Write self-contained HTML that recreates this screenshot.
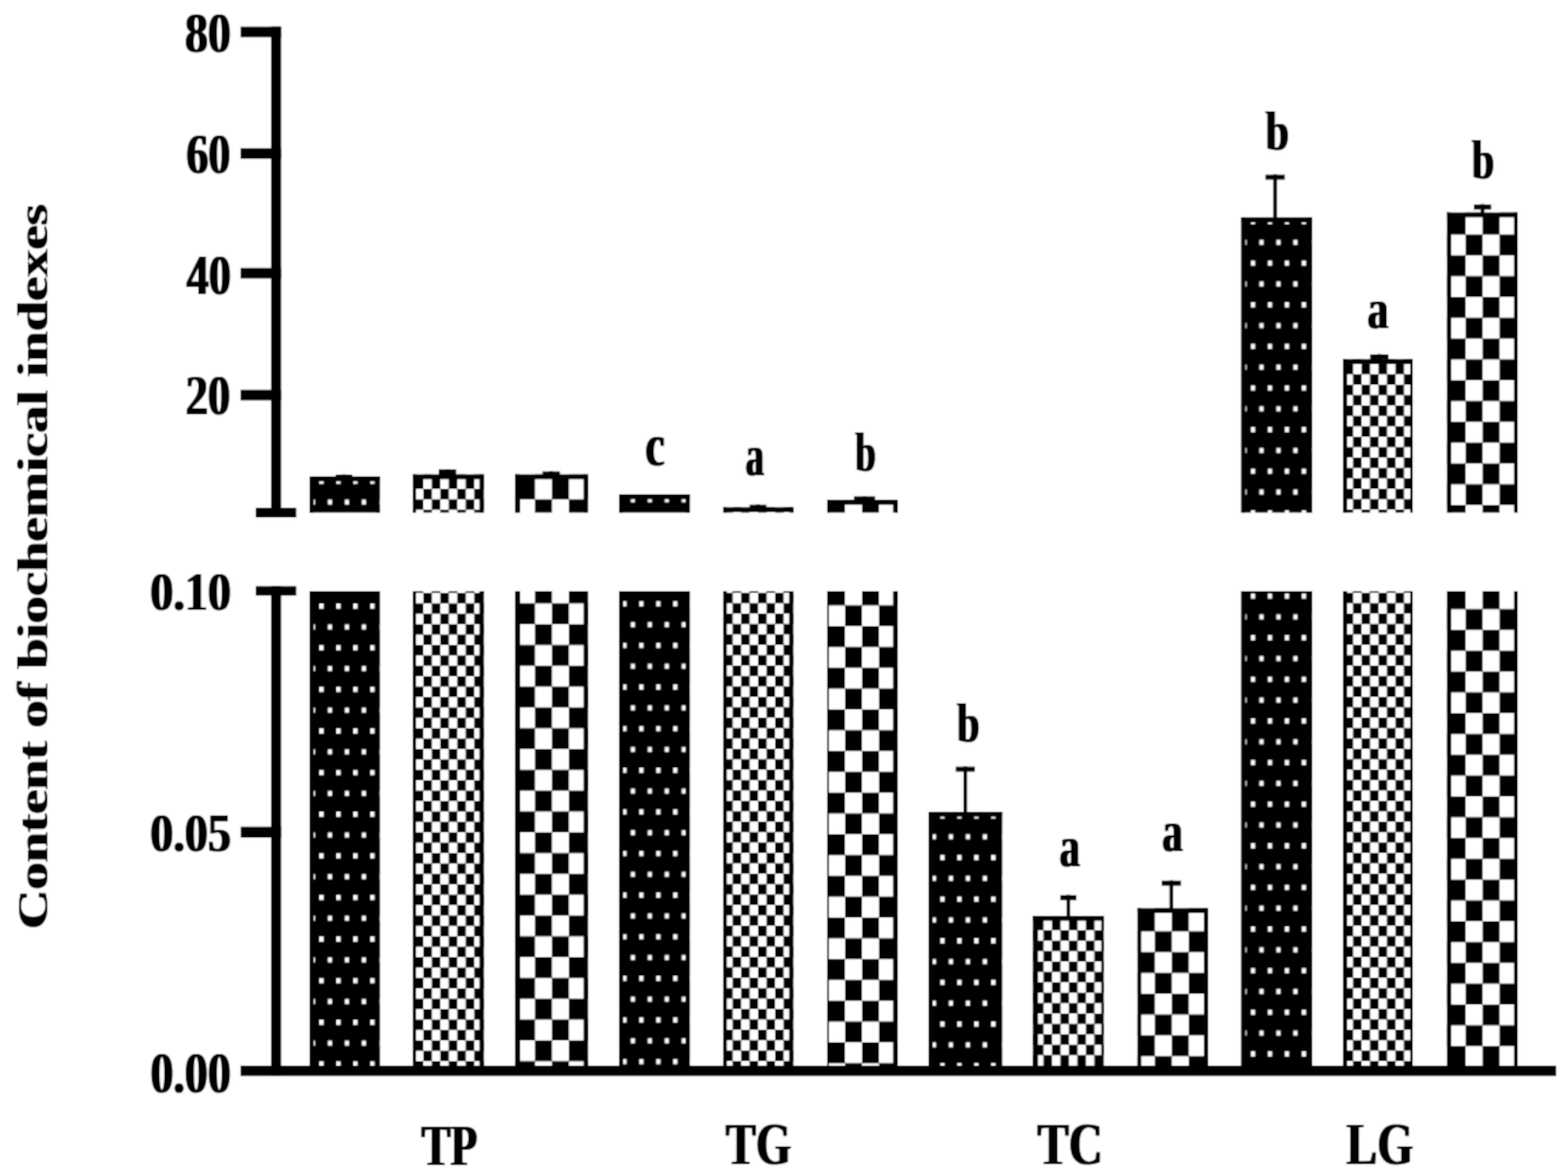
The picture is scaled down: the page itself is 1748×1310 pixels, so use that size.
<!DOCTYPE html>
<html><head><meta charset="utf-8"><title>Content of biochemical indexes</title>
<style>html,body{margin:0;padding:0;background:#fff;} svg{display:block;}</style>
</head><body>
<svg width="1748" height="1310" viewBox="0 0 1748 1310">
<defs><filter id="dilx" x="-2%" y="-2%" width="104%" height="104%"><feMorphology operator="dilate" radius="1 0"/></filter><filter id="dily" x="-10%" y="-2%" width="120%" height="104%"><feMorphology operator="dilate" radius="0 1"/></filter><filter id="soft" x="0" y="0" width="1748" height="1310" filterUnits="userSpaceOnUse"><feConvolveMatrix order="3" kernelMatrix="1 2 1 2 4 2 1 2 1" edgeMode="duplicate" preserveAlpha="true"/></filter><pattern id="dot0" patternUnits="userSpaceOnUse" x="356.00" y="672.90" width="18.920" height="46.400"><rect width="18.920" height="46.400" fill="#000"/><rect x="0" y="0" width="4.730" height="5.800" fill="#fff"/><rect x="9.460" y="23.200" width="4.730" height="5.800" fill="#fff"/></pattern><pattern id="sck1" patternUnits="userSpaceOnUse" x="471.90" y="661.10" width="18.920" height="23.200"><rect width="18.920" height="23.200" fill="#fff"/><rect x="0" y="0" width="9.460" height="11.600" fill="#000"/><rect x="9.460" y="11.600" width="9.460" height="11.600" fill="#000"/></pattern><pattern id="bck2" patternUnits="userSpaceOnUse" x="596.40" y="649.50" width="37.840" height="46.400"><rect width="37.840" height="46.400" fill="#fff"/><rect x="0" y="0" width="18.920" height="23.200" fill="#000"/><rect x="18.920" y="23.200" width="18.920" height="23.200" fill="#000"/></pattern><pattern id="dot3" patternUnits="userSpaceOnUse" x="693.70" y="670.30" width="18.920" height="46.400"><rect width="18.920" height="46.400" fill="#000"/><rect x="0" y="0" width="4.730" height="5.800" fill="#fff"/><rect x="9.460" y="23.200" width="4.730" height="5.800" fill="#fff"/></pattern><pattern id="sck4" patternUnits="userSpaceOnUse" x="826.23" y="660.90" width="18.920" height="23.200"><rect width="18.920" height="23.200" fill="#fff"/><rect x="0" y="0" width="9.460" height="11.600" fill="#000"/><rect x="9.460" y="11.600" width="9.460" height="11.600" fill="#000"/></pattern><pattern id="bck5" patternUnits="userSpaceOnUse" x="923.10" y="651.70" width="37.840" height="46.400"><rect width="37.840" height="46.400" fill="#fff"/><rect x="0" y="0" width="18.920" height="23.200" fill="#000"/><rect x="18.920" y="23.200" width="18.920" height="23.200" fill="#000"/></pattern><pattern id="dot6" patternUnits="userSpaceOnUse" x="1048.30" y="953.20" width="18.920" height="46.400"><rect width="18.920" height="46.400" fill="#000"/><rect x="0" y="0" width="4.730" height="5.800" fill="#fff"/><rect x="9.460" y="23.200" width="4.730" height="5.800" fill="#fff"/></pattern><pattern id="sck7" patternUnits="userSpaceOnUse" x="1153.80" y="1025.56" width="18.920" height="23.200"><rect width="18.920" height="23.200" fill="#fff"/><rect x="0" y="0" width="9.460" height="11.600" fill="#000"/><rect x="9.460" y="11.600" width="9.460" height="11.600" fill="#000"/></pattern><pattern id="bck8" patternUnits="userSpaceOnUse" x="1268.50" y="1015.10" width="37.840" height="46.400"><rect width="37.840" height="46.400" fill="#fff"/><rect x="0" y="0" width="18.920" height="23.200" fill="#000"/><rect x="18.920" y="23.200" width="18.920" height="23.200" fill="#000"/></pattern><pattern id="dot9" patternUnits="userSpaceOnUse" x="1394.50" y="661.70" width="18.920" height="46.400"><rect width="18.920" height="46.400" fill="#000"/><rect x="0" y="0" width="4.730" height="5.800" fill="#fff"/><rect x="9.460" y="23.200" width="4.730" height="5.800" fill="#fff"/></pattern><pattern id="sck10" patternUnits="userSpaceOnUse" x="1498.90" y="660.90" width="18.920" height="23.200"><rect width="18.920" height="23.200" fill="#fff"/><rect x="0" y="0" width="9.460" height="11.600" fill="#000"/><rect x="9.460" y="11.600" width="9.460" height="11.600" fill="#000"/></pattern><pattern id="bck11" patternUnits="userSpaceOnUse" x="1614.90" y="238.30" width="37.840" height="46.400"><rect width="37.840" height="46.400" fill="#fff"/><rect x="0" y="0" width="18.920" height="23.200" fill="#000"/><rect x="18.920" y="23.200" width="18.920" height="23.200" fill="#000"/></pattern></defs>
<g filter="url(#soft)">
<rect width="1748" height="1310" fill="#fff"/>
<rect x="345.00" y="531.10" width="78.40" height="40.40" fill="url(#dot0)"/><rect x="345.00" y="531.10" width="4.70" height="40.40" fill="#000"/><rect x="418.70" y="531.10" width="4.70" height="40.40" fill="#000"/><rect x="345.00" y="531.10" width="78.40" height="5.50" fill="#000"/><rect x="460.20" y="528.80" width="79.30" height="42.70" fill="url(#sck1)"/><rect x="460.20" y="528.80" width="3.60" height="42.70" fill="#000"/><rect x="534.50" y="528.80" width="5.00" height="42.70" fill="#000"/><rect x="460.20" y="528.80" width="79.30" height="5.50" fill="#000"/><rect x="574.00" y="528.80" width="81.60" height="42.70" fill="url(#bck2)"/><rect x="574.00" y="528.80" width="5.90" height="42.70" fill="#000"/><rect x="650.60" y="528.80" width="5.00" height="42.70" fill="#000"/><rect x="574.00" y="528.80" width="81.60" height="5.50" fill="#000"/><rect x="690.00" y="551.00" width="79.10" height="20.50" fill="url(#dot3)"/><rect x="690.00" y="551.00" width="4.70" height="20.50" fill="#000"/><rect x="764.40" y="551.00" width="4.70" height="20.50" fill="#000"/><rect x="690.00" y="551.00" width="79.10" height="5.50" fill="#000"/><rect x="806.20" y="565.50" width="78.30" height="6.00" fill="url(#sck4)"/><rect x="806.20" y="565.50" width="4.10" height="6.00" fill="#000"/><rect x="879.70" y="565.50" width="4.80" height="6.00" fill="#000"/><rect x="806.20" y="565.50" width="78.30" height="5.50" fill="#000"/><rect x="922.00" y="557.20" width="78.80" height="14.30" fill="url(#bck5)"/><rect x="922.00" y="557.20" width="2.10" height="14.30" fill="#000"/><rect x="995.60" y="557.20" width="5.20" height="14.30" fill="#000"/><rect x="922.00" y="557.20" width="78.80" height="5.50" fill="#000"/><rect x="1383.70" y="242.50" width="79.00" height="329.00" fill="url(#dot9)"/><rect x="1383.70" y="242.50" width="4.70" height="329.00" fill="#000"/><rect x="1458.00" y="242.50" width="4.70" height="329.00" fill="#000"/><rect x="1383.70" y="242.50" width="79.00" height="5.50" fill="#000"/><rect x="1497.00" y="400.40" width="77.90" height="171.10" fill="url(#sck10)"/><rect x="1497.00" y="400.40" width="4.80" height="171.10" fill="#000"/><rect x="1572.10" y="400.40" width="2.80" height="171.10" fill="#000"/><rect x="1497.00" y="400.40" width="77.90" height="5.50" fill="#000"/><rect x="1612.90" y="236.80" width="79.10" height="334.70" fill="url(#bck11)"/><rect x="1612.90" y="236.80" width="4.90" height="334.70" fill="#000"/><rect x="1687.80" y="236.80" width="4.20" height="334.70" fill="#000"/><rect x="1612.90" y="236.80" width="79.10" height="5.50" fill="#000"/><rect x="345.00" y="659.00" width="78.40" height="535.00" fill="url(#dot0)"/><rect x="345.00" y="659.00" width="4.70" height="535.00" fill="#000"/><rect x="418.70" y="659.00" width="4.70" height="535.00" fill="#000"/><rect x="460.20" y="659.00" width="79.30" height="535.00" fill="url(#sck1)"/><rect x="460.20" y="659.00" width="3.60" height="535.00" fill="#000"/><rect x="534.50" y="659.00" width="5.00" height="535.00" fill="#000"/><rect x="574.00" y="659.00" width="81.60" height="535.00" fill="url(#bck2)"/><rect x="574.00" y="659.00" width="5.90" height="535.00" fill="#000"/><rect x="650.60" y="659.00" width="5.00" height="535.00" fill="#000"/><rect x="690.00" y="659.00" width="79.10" height="535.00" fill="url(#dot3)"/><rect x="690.00" y="659.00" width="4.70" height="535.00" fill="#000"/><rect x="764.40" y="659.00" width="4.70" height="535.00" fill="#000"/><rect x="806.20" y="659.00" width="78.30" height="535.00" fill="url(#sck4)"/><rect x="806.20" y="659.00" width="4.10" height="535.00" fill="#000"/><rect x="879.70" y="659.00" width="4.80" height="535.00" fill="#000"/><rect x="922.00" y="659.00" width="78.80" height="535.00" fill="url(#bck5)"/><rect x="922.00" y="659.00" width="2.10" height="535.00" fill="#000"/><rect x="995.60" y="659.00" width="5.20" height="535.00" fill="#000"/><rect x="1035.00" y="905.00" width="82.20" height="289.00" fill="url(#dot6)"/><rect x="1035.00" y="905.00" width="4.70" height="289.00" fill="#000"/><rect x="1112.50" y="905.00" width="4.70" height="289.00" fill="#000"/><rect x="1035.00" y="905.00" width="82.20" height="5.50" fill="#000"/><rect x="1151.40" y="1021.00" width="79.10" height="173.00" fill="url(#sck7)"/><rect x="1151.40" y="1021.00" width="5.80" height="173.00" fill="#000"/><rect x="1227.70" y="1021.00" width="2.80" height="173.00" fill="#000"/><rect x="1151.40" y="1021.00" width="79.10" height="5.50" fill="#000"/><rect x="1267.90" y="1012.50" width="79.00" height="181.50" fill="url(#bck8)"/><rect x="1267.90" y="1012.50" width="4.40" height="181.50" fill="#000"/><rect x="1342.00" y="1012.50" width="4.90" height="181.50" fill="#000"/><rect x="1267.90" y="1012.50" width="79.00" height="5.50" fill="#000"/><rect x="1383.70" y="659.00" width="79.00" height="535.00" fill="url(#dot9)"/><rect x="1383.70" y="659.00" width="4.70" height="535.00" fill="#000"/><rect x="1458.00" y="659.00" width="4.70" height="535.00" fill="#000"/><rect x="1497.00" y="659.00" width="77.90" height="535.00" fill="url(#sck10)"/><rect x="1497.00" y="659.00" width="4.80" height="535.00" fill="#000"/><rect x="1572.10" y="659.00" width="2.80" height="535.00" fill="#000"/><rect x="1612.90" y="659.00" width="79.10" height="535.00" fill="url(#bck11)"/><rect x="1612.90" y="659.00" width="4.90" height="535.00" fill="#000"/><rect x="1687.80" y="659.00" width="4.20" height="535.00" fill="#000"/>
<rect x="374.20" y="529.10" width="18.60" height="5.70" fill="#000"/><rect x="381.40" y="528.80" width="4.20" height="3.30" fill="#000"/><rect x="489.05" y="523.30" width="19.50" height="5.70" fill="#000"/><rect x="496.70" y="523.00" width="4.20" height="6.80" fill="#000"/><rect x="604.75" y="525.60" width="19.50" height="5.70" fill="#000"/><rect x="612.40" y="525.30" width="4.20" height="4.50" fill="#000"/><rect x="835.65" y="562.70" width="18.80" height="5.70" fill="#000"/><rect x="842.95" y="562.40" width="4.20" height="4.10" fill="#000"/><rect x="951.90" y="553.40" width="23.60" height="5.70" fill="#000"/><rect x="961.60" y="553.10" width="4.20" height="5.10" fill="#000"/><rect x="1065.50" y="854.70" width="21.20" height="5.70" fill="#000"/><rect x="1074.00" y="854.40" width="4.20" height="51.60" fill="#000"/><rect x="1181.95" y="997.90" width="18.10" height="5.70" fill="#000"/><rect x="1188.90" y="997.60" width="4.20" height="24.40" fill="#000"/><rect x="1295.10" y="981.80" width="21.40" height="5.70" fill="#000"/><rect x="1303.70" y="981.50" width="4.20" height="32.00" fill="#000"/><rect x="1410.70" y="194.70" width="21.60" height="5.70" fill="#000"/><rect x="1419.40" y="194.40" width="4.20" height="49.10" fill="#000"/><rect x="1527.50" y="395.00" width="20.40" height="5.70" fill="#000"/><rect x="1535.60" y="394.70" width="4.20" height="6.70" fill="#000"/><rect x="1643.05" y="227.90" width="19.30" height="5.70" fill="#000"/><rect x="1650.60" y="227.60" width="4.20" height="10.20" fill="#000"/>
<rect x="302.20" y="29.60" width="11.20" height="547.40" fill="#000"/><rect x="268.20" y="29.70" width="45.20" height="11.80" fill="#000"/><rect x="268.20" y="165.30" width="45.20" height="11.80" fill="#000"/><rect x="268.20" y="298.70" width="45.20" height="11.80" fill="#000"/><rect x="268.20" y="434.60" width="45.20" height="11.80" fill="#000"/><rect x="285.00" y="566.00" width="45.30" height="11.00" fill="#000"/><rect x="285.00" y="653.50" width="45.30" height="10.60" fill="#000"/><rect x="302.20" y="653.50" width="11.20" height="545.70" fill="#000"/><rect x="268.40" y="921.70" width="45.00" height="12.20" fill="#000"/><rect x="268.20" y="1188.00" width="1466.60" height="11.60" fill="#000"/>
<g font-family="'Liberation Serif', 'Times New Roman', serif" font-weight="bold" fill="#000">
<g filter="url(#dilx)"><text transform="translate(206.30,58.08) scale(0.8008,1)" font-size="63.87">80</text><text transform="translate(207.72,193.29) scale(0.7805,1)" font-size="62.83">60</text><text transform="translate(208.03,327.78) scale(0.7711,1)" font-size="63.87">40</text><text transform="translate(206.91,462.27) scale(0.7741,1)" font-size="64.31">20</text><text transform="translate(167.44,680.23) scale(0.8348,1)" font-size="61.69">0.10</text><text transform="translate(167.44,948.93) scale(0.8331,1)" font-size="61.69">0.05</text><text transform="translate(167.75,1217.97) scale(0.7771,1)" font-size="65.81">0.00</text><text transform="translate(469.64,1298.50) scale(0.7517,1)" font-size="64.91">TP</text><text transform="translate(809.11,1297.84) scale(0.7513,1)" font-size="67.13">TG</text><text transform="translate(1156.48,1297.84) scale(0.7808,1)" font-size="67.13">TC</text><text transform="translate(1501.12,1297.84) scale(0.7659,1)" font-size="67.13">LG</text><text transform="translate(719.55,519.08) scale(0.7258,1)" font-size="66.60">c</text><text transform="translate(831.18,530.37) scale(0.6336,1)" font-size="64.51">a</text><text transform="translate(953.38,525.20) scale(0.6656,1)" font-size="61.54">b</text><text transform="translate(1066.93,826.61) scale(0.7387,1)" font-size="60.83">b</text><text transform="translate(1181.34,966.47) scale(0.6998,1)" font-size="64.72">a</text><text transform="translate(1295.64,949.47) scale(0.6976,1)" font-size="64.93">a</text><text transform="translate(1410.91,166.99) scale(0.7491,1)" font-size="62.11">b</text><text transform="translate(1524.50,366.19) scale(0.7443,1)" font-size="62.63">a</text><text transform="translate(1640.94,199.01) scale(0.7341,1)" font-size="60.40">b</text></g>
<g filter="url(#dily)"><text transform="translate(53.42,1035.67) rotate(-90) scale(1,0.8072)" font-size="60.74">Content of biochemical indexes</text></g>
</g>
</g>
</svg>
</body></html>
